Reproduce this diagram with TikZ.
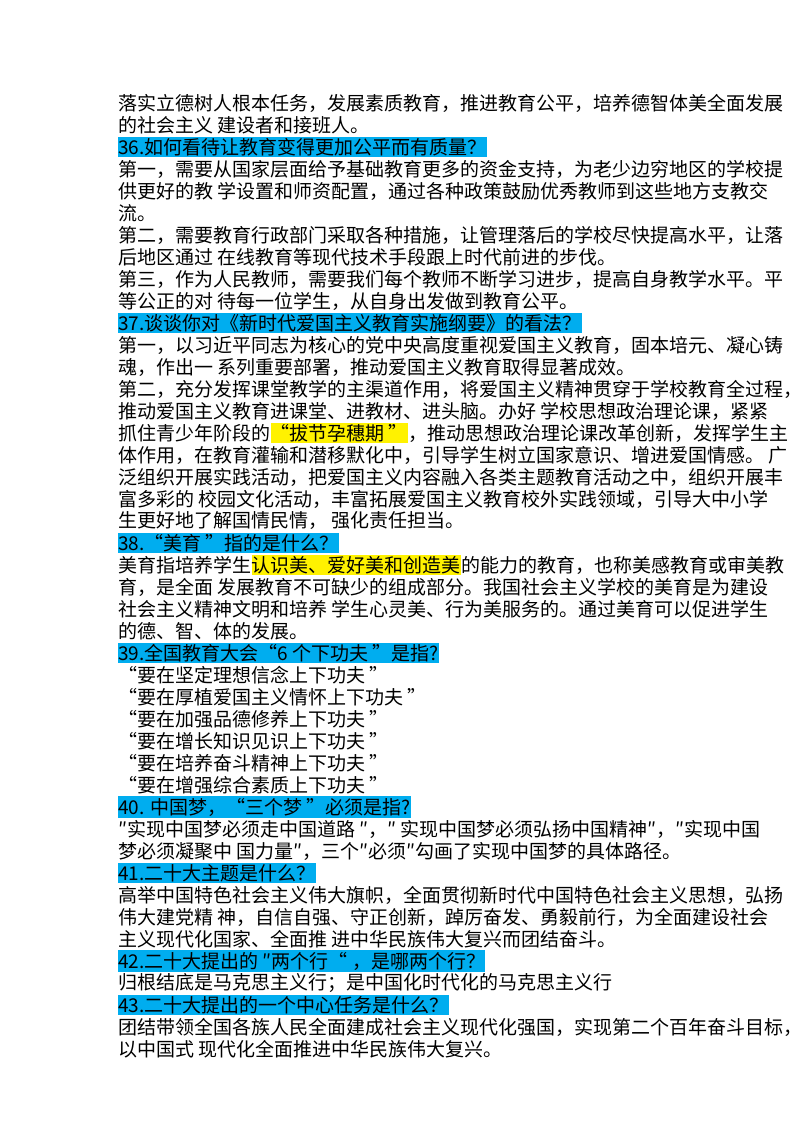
\documentclass[tikz,border=0pt]{standalone}
\usepackage{fontspec}
\setmainfont{Noto Sans CJK SC}
\begin{document}
\begin{tikzpicture}[x=1pt,y=-1pt,
	txt/.style={anchor=west,inner sep=0pt,font=\fontsize{19}{22}\selectfont},
	hd/.style={txt,fill=cyan,inner ysep=1.5pt},
	hl/.style={txt,fill=yellow,inner ysep=1.5pt}]
	\useasboundingbox (0,0) rectangle (800,1132);
	
	\node[txt] (l1) at (118,103) {落实立德树人根本任务，发展素质教育，推进教育公平，培养德智体美全面发展};
	\node[txt] (l2) at (118,125) {的社会主义 建设者和接班人。};
	\node[hd] (q36) at (118,147) {36.如何看待让教育变得更加公平而有质量？};
	\node[txt] (l4) at (118,169) {第一，需要从国家层面给予基础教育更多的资金支持，为老少边穷地区的学校提};
	\node[txt] (l5) at (118,191) {供更好的教 学设置和师资配置，通过各种政策鼓励优秀教师到这些地方支教交};
	\node[txt] (l6) at (118,213) {流。};
	\node[txt] (l7) at (118,235) {第二，需要教育行政部门采取各种措施，让管理落后的学校尽快提高水平，让落};
	\node[txt] (l8) at (118,257) {后地区通过 在线教育等现代技术手段跟上时代前进的步伐。};
	\node[txt] (l9) at (118,279) {第三，作为人民教师，需要我们每个教师不断学习进步，提高自身教学水平。平};
	\node[txt] (l10) at (118,301) {等公正的对 待每一位学生，从自身出发做到教育公平。};
	\node[hd] (q37) at (118,323) {37.谈谈你对《新时代爱国主义教育实施纲要》的看法？};
	\node[txt] (l12) at (118,345) {第一，以习近平同志为核心的党中央高度重视爱国主义教育，固本培元、凝心铸};
	\node[txt] (l13) at (118,367) {魂，作出一 系列重要部署，推动爱国主义教育取得显著成效。};
	\node[txt] (l14) at (118,389) {第二，充分发挥课堂教学的主渠道作用，将爱国主义精神贯穿于学校教育全过程，};
	\node[txt] (l15) at (118,411) {推动爱国主义教育进课堂、进教材、进头脑。办好 学校思想政治理论课，紧紧};
	\node[txt] (l16a) at (118,433) {抓住青少年阶段的};
	\node[hl] (l16b) at (l16a.east) {“拔节孕穗期 ”};
	\node[txt] (l16c) at (l16b.east) {，推动思想政治理论课改革创新，发挥学生主};
	\node[txt] (l17) at (118,455) {体作用，在教育灌输和潜移默化中，引导学生树立国家意识、增进爱国情感。 广};
	\node[txt] (l18) at (118,477) {泛组织开展实践活动，把爱国主义内容融入各类主题教育活动之中，组织开展丰};
	\node[txt] (l19) at (118,499) {富多彩的 校园文化活动，丰富拓展爱国主义教育校外实践领域，引导大中小学};
	\node[txt] (l20) at (118,521) {生更好地了解国情民情， 强化责任担当。};
	\node[hd] (q38) at (118,543) {38.“美育 ”指的是什么？};
	\node[txt] (l22a) at (118,565) {美育指培养学生};
	\node[hl] (l22b) at (l22a.east) {认识美、爱好美和创造美};
	\node[txt] (l22c) at (l22b.east) {的能力的教育，也称美感教育或审美教};
	\node[txt] (l23) at (118,587) {育，是全面 发展教育不可缺少的组成部分。我国社会主义学校的美育是为建设};
	\node[txt] (l24) at (118,609) {社会主义精神文明和培养 学生心灵美、行为美服务的。通过美育可以促进学生};
	\node[txt] (l25) at (118,631) {的德、智、体的发展。};
	\node[hd] (q39) at (118,653) {39.全国教育大会“6 个下功夫 ”是指?};
	\node[txt] (l27) at (118,675) {“要在坚定理想信念上下功夫 ”};
	\node[txt] (l28) at (118,697) {“要在厚植爱国主义情怀上下功夫 ”};
	\node[txt] (l29) at (118,719) {“要在加强品德修养上下功夫 ”};
	\node[txt] (l30) at (118,741) {“要在增长知识见识上下功夫 ”};
	\node[txt] (l31) at (118,763) {“要在培养奋斗精神上下功夫 ”};
	\node[txt] (l32) at (118,785) {“要在增强综合素质上下功夫 ”};
	\node[hd] (q40) at (118,807) {40. 中国梦，“三个梦 ”必须是指?};
	\node[txt] (l34) at (118,829) {″实现中国梦必须走中国道路 ″，″ 实现中国梦必须弘扬中国精神″，″实现中国};
	\node[txt] (l35) at (118,851) {梦必须凝聚中 国力量″，三个″必须″勾画了实现中国梦的具体路径。};
	\node[hd] (q41) at (118,873) {41.二十大主题是什么？};
	\node[txt] (l37) at (118,895) {高举中国特色社会主义伟大旗帜，全面贯彻新时代中国特色社会主义思想，弘扬};
	\node[txt] (l38) at (118,917) {伟大建党精 神，自信自强、守正创新，踔厉奋发、勇毅前行，为全面建设社会};
	\node[txt] (l39) at (118,939) {主义现代化国家、全面推 进中华民族伟大复兴而团结奋斗。};
	\node[hd] (q42) at (118,961) {42.二十大提出的 ″两个行“ ，是哪两个行？};
	\node[txt] (l41) at (118,983) {归根结底是马克思主义行；是中国化时代化的马克思主义行};
	\node[hd] (q43) at (118,1005) {43.二十大提出的一个中心任务是什么？};
	\node[txt] (l43) at (118,1027) {团结带领全国各族人民全面建成社会主义现代化强国，实现第二个百年奋斗目标，};
	\node[txt] (l44) at (118,1049) {以中国式 现代化全面推进中华民族伟大复兴。};
\end{tikzpicture}
\end{document}
